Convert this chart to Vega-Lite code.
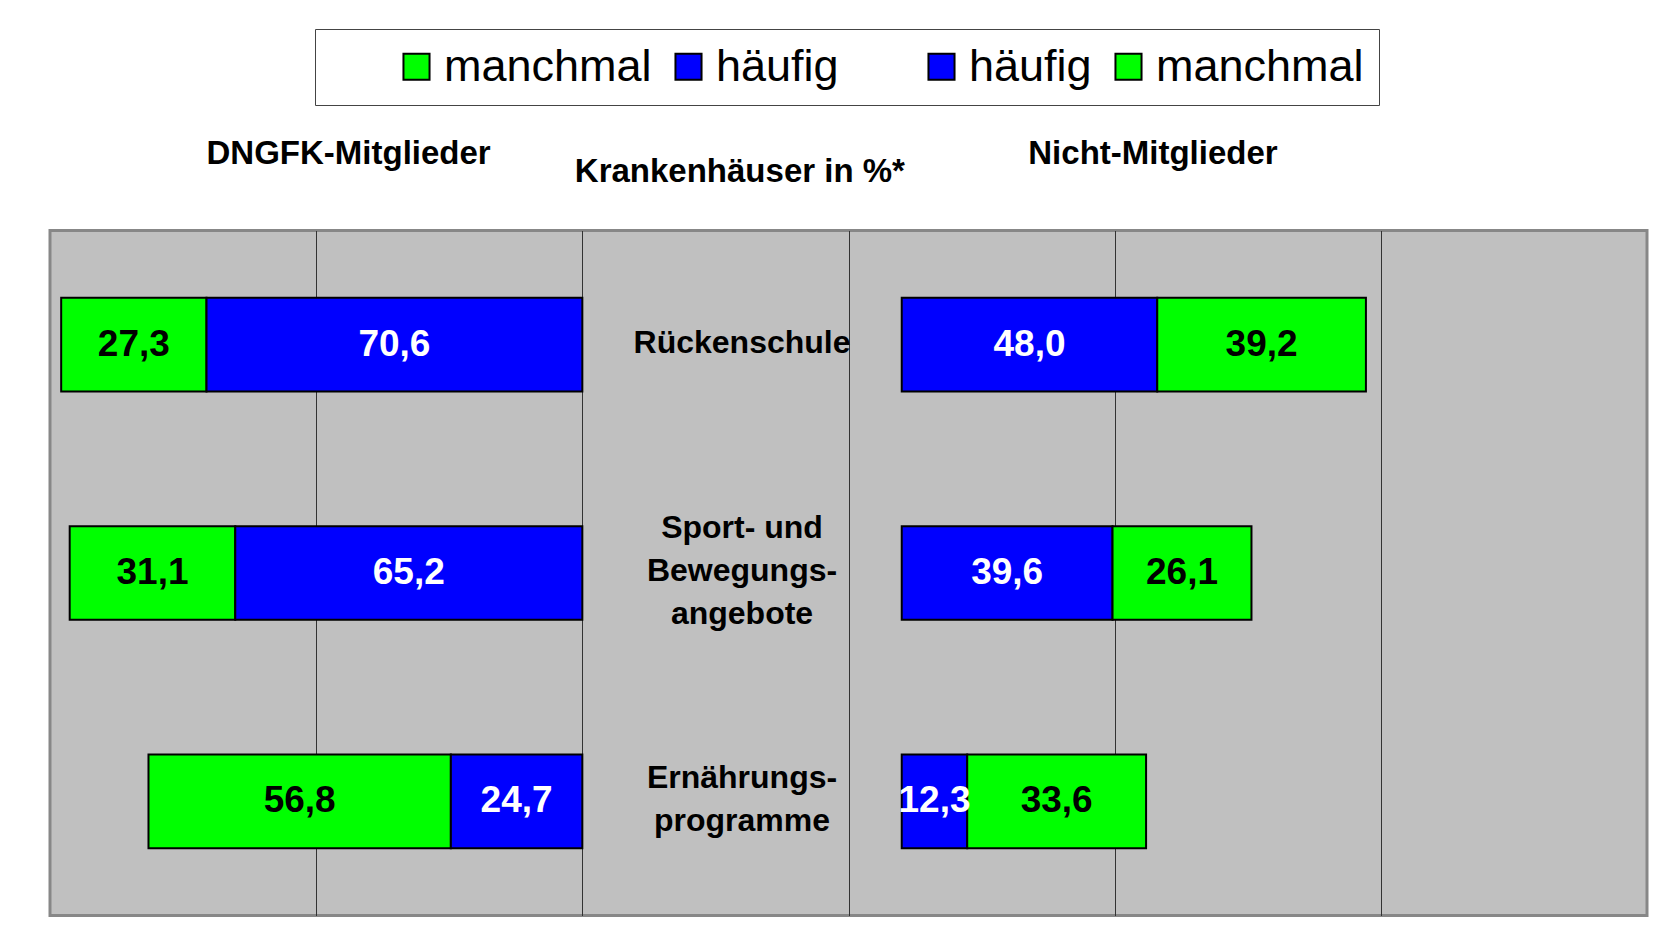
{
  "$schema": "https://vega.github.io/schema/vega-lite/v6.json",
  "width": 1597,
  "height": 685,
  "autosize": {"type": "none"},
  "padding": {"left": 50, "top": 230.5, "right": 20, "bottom": 33.5},
  "background": "white",
  "datasets": {
    "werte": [
      {"bereich": "Rückenschule", "gruppe": "DNGFK-Mitglieder", "antwort": "manchmal", "serie": "manchmal (DNGFK)", "prozent": 27.3},
      {"bereich": "Rückenschule", "gruppe": "DNGFK-Mitglieder", "antwort": "häufig", "serie": "häufig (DNGFK)", "prozent": 70.6},
      {"bereich": "Rückenschule", "gruppe": "Nicht-Mitglieder", "antwort": "häufig", "serie": "häufig (Nicht)", "prozent": 48.0},
      {"bereich": "Rückenschule", "gruppe": "Nicht-Mitglieder", "antwort": "manchmal", "serie": "manchmal (Nicht)", "prozent": 39.2},
      {"bereich": "Sport- und\nBewegungs-\nangebote", "gruppe": "DNGFK-Mitglieder", "antwort": "manchmal", "serie": "manchmal (DNGFK)", "prozent": 31.1},
      {"bereich": "Sport- und\nBewegungs-\nangebote", "gruppe": "DNGFK-Mitglieder", "antwort": "häufig", "serie": "häufig (DNGFK)", "prozent": 65.2},
      {"bereich": "Sport- und\nBewegungs-\nangebote", "gruppe": "Nicht-Mitglieder", "antwort": "häufig", "serie": "häufig (Nicht)", "prozent": 39.6},
      {"bereich": "Sport- und\nBewegungs-\nangebote", "gruppe": "Nicht-Mitglieder", "antwort": "manchmal", "serie": "manchmal (Nicht)", "prozent": 26.1},
      {"bereich": "Ernährungs-\nprogramme", "gruppe": "DNGFK-Mitglieder", "antwort": "manchmal", "serie": "manchmal (DNGFK)", "prozent": 56.8},
      {"bereich": "Ernährungs-\nprogramme", "gruppe": "DNGFK-Mitglieder", "antwort": "häufig", "serie": "häufig (DNGFK)", "prozent": 24.7},
      {"bereich": "Ernährungs-\nprogramme", "gruppe": "Nicht-Mitglieder", "antwort": "häufig", "serie": "häufig (Nicht)", "prozent": 12.3},
      {"bereich": "Ernährungs-\nprogramme", "gruppe": "Nicht-Mitglieder", "antwort": "manchmal", "serie": "manchmal (Nicht)", "prozent": 33.6}
    ],
    "bereiche": [
      {"bereich": "Rückenschule"},
      {"bereich": "Sport- und\nBewegungs-\nangebote"},
      {"bereich": "Ernährungs-\nprogramme"}
    ]
  },
  "layer": [
    {
      "data": {"name": "werte"},
      "transform": [{"filter": {"field": "gruppe", "equal": "DNGFK-Mitglieder"}}],
      "layer": [
        {
          "mark": {"type": "bar", "stroke": "black", "strokeWidth": 2},
          "encoding": {
            "y": {"field": "bereich", "type": "nominal", "axis": null, "scale": {"domain": ["Rückenschule", "Sport- und\nBewegungs-\nangebote", "Ernährungs-\nprogramme"], "paddingInner": 0.59, "paddingOuter": 0.295}},
            "x": {"field": "prozent", "type": "quantitative", "stack": "zero", "scale": {"domain": [-200, 100], "reverse": true, "nice": false, "zero": false},
                  "axis": {"orient": "top", "values": [-29.5], "labelExpr": "'Krankenhäuser in %*'", "labelFont": "Liberation Sans", "labelFontSize": 33, "labelFontWeight": "bold", "labelColor": "black", "labelBaseline": "alphabetic", "labelAlign": "center", "labelAngle": 0, "labelPadding": 49.5, "labelFlush": false, "labelOverlap": false, "labelBound": false, "labelLimit": 0, "grid": false, "ticks": false, "tickSize": 0, "domain": false, "title": null}},
            "order": {"field": "antwort", "sort": "ascending"},
            "color": {"field": "serie", "type": "nominal",
                      "scale": {"domain": ["manchmal (DNGFK)", "häufig (DNGFK)", "häufig (Nicht)", "manchmal (Nicht)"], "range": ["#00ff00", "#0000ff", "#0000ff", "#00ff00"]},
                      "legend": {"orient": "none", "legendX": 265, "legendY": -201.5, "direction": "horizontal",
                                 "title": "\u2800\u2800", "titleOrient": "left", "titleFontSize": 43, "titlePadding": 0,
                                 "labelFont": "Liberation Sans", "labelFontSize": 45, "labelColor": "black", "labelOffset": 5, "labelLimit": 500,
                                 "labelExpr": "datum.label == 'häufig (DNGFK)' ? 'häufig\u2800\u2800' : split(datum.label, ' ')[0]",
                                 "symbolType": "square", "symbolSize": 680, "symbolStrokeColor": "black", "symbolStrokeWidth": 2, "symbolOpacity": 1,
                                 "columnPadding": 14, "padding": 15, "strokeColor": "#444444", "fillColor": "white"}}
          }
        },
        {
          "mark": {"type": "text", "font": "Liberation Sans", "fontSize": 37, "fontWeight": "bold", "align": "center", "baseline": "middle"},
          "encoding": {
            "y": {"field": "bereich", "type": "nominal", "axis": null, "scale": {"domain": ["Rückenschule", "Sport- und\nBewegungs-\nangebote", "Ernährungs-\nprogramme"], "paddingInner": 0.59, "paddingOuter": 0.295}},
            "x": {"field": "prozent", "type": "quantitative", "stack": "zero", "bandPosition": 0.5, "scale": {"domain": [-200, 100], "reverse": true, "nice": false, "zero": false},
                  "axis": {"orient": "top", "values": [-29.5], "labelExpr": "'Krankenhäuser in %*'", "labelFont": "Liberation Sans", "labelFontSize": 33, "labelFontWeight": "bold", "labelColor": "black", "labelBaseline": "alphabetic", "labelAlign": "center", "labelAngle": 0, "labelPadding": 49.5, "labelFlush": false, "labelOverlap": false, "labelBound": false, "labelLimit": 0, "grid": false, "ticks": false, "tickSize": 0, "domain": false, "title": null}},
            "order": {"field": "antwort", "sort": "ascending"},
            "detail": {"field": "antwort"},
            "text": {"field": "prozent", "type": "quantitative", "format": ".1f"},
            "color": {"condition": {"test": "datum.antwort == 'häufig'", "value": "white"}, "value": "black"}
          }
        }
      ]
    },
    {
      "data": {"name": "werte"},
      "transform": [{"filter": {"field": "gruppe", "equal": "Nicht-Mitglieder"}}],
      "layer": [
        {
          "mark": {"type": "bar", "stroke": "black", "strokeWidth": 2},
          "encoding": {
            "y": {"field": "bereich", "type": "nominal", "axis": null, "scale": {"domain": ["Rückenschule", "Sport- und\nBewegungs-\nangebote", "Ernährungs-\nprogramme"], "paddingInner": 0.59, "paddingOuter": 0.295}},
            "x": {"field": "prozent", "type": "quantitative", "stack": "zero", "scale": {"domain": [-160, 140], "nice": false, "zero": false},
                  "axis": {"orient": "bottom", "values": [-110, -60, -10, 40, 90], "grid": true, "gridColor": "#333333", "gridWidth": 1, "gridOpacity": 1, "labels": false, "ticks": false, "domain": false, "title": null}},
            "order": {"field": "antwort", "sort": "ascending"},
            "color": {"field": "serie", "type": "nominal",
                      "scale": {"domain": ["manchmal (DNGFK)", "häufig (DNGFK)", "häufig (Nicht)", "manchmal (Nicht)"], "range": ["#00ff00", "#0000ff", "#0000ff", "#00ff00"]},
                      "legend": {"orient": "none", "legendX": 265, "legendY": -201.5, "direction": "horizontal",
                                 "title": "\u2800\u2800", "titleOrient": "left", "titleFontSize": 43, "titlePadding": 0,
                                 "labelFont": "Liberation Sans", "labelFontSize": 45, "labelColor": "black", "labelOffset": 5, "labelLimit": 500,
                                 "labelExpr": "datum.label == 'häufig (DNGFK)' ? 'häufig\u2800\u2800' : split(datum.label, ' ')[0]",
                                 "symbolType": "square", "symbolSize": 680, "symbolStrokeColor": "black", "symbolStrokeWidth": 2, "symbolOpacity": 1,
                                 "columnPadding": 14, "padding": 15, "strokeColor": "#444444", "fillColor": "white"}}
          }
        },
        {
          "mark": {"type": "text", "font": "Liberation Sans", "fontSize": 37, "fontWeight": "bold", "align": "center", "baseline": "middle"},
          "encoding": {
            "y": {"field": "bereich", "type": "nominal", "axis": null, "scale": {"domain": ["Rückenschule", "Sport- und\nBewegungs-\nangebote", "Ernährungs-\nprogramme"], "paddingInner": 0.59, "paddingOuter": 0.295}},
            "x": {"field": "prozent", "type": "quantitative", "stack": "zero", "bandPosition": 0.5, "scale": {"domain": [-160, 140], "nice": false, "zero": false},
                  "axis": {"orient": "bottom", "values": [-110, -60, -10, 40, 90], "grid": true, "gridColor": "#333333", "gridWidth": 1, "gridOpacity": 1, "labels": false, "ticks": false, "domain": false, "title": null}},
            "order": {"field": "antwort", "sort": "ascending"},
            "detail": {"field": "antwort"},
            "text": {"field": "prozent", "type": "quantitative", "format": ".1f"},
            "color": {"condition": {"test": "datum.antwort == 'häufig'", "value": "white"}, "value": "black"}
          }
        }
      ]
    },
    {
      "data": {"name": "bereiche"},
      "mark": {"type": "text", "font": "Liberation Sans", "fontSize": 32, "fontWeight": "bold", "lineBreak": "\n", "lineHeight": 43, "align": "center", "baseline": "middle", "color": "black",
               "dy": {"expr": "-(length(split(datum.bereich, '\\n')) - 1) * 21.5 - 2"}},
      "encoding": {
        "y": {"field": "bereich", "type": "nominal", "axis": null, "scale": {"domain": ["Rückenschule", "Sport- und\nBewegungs-\nangebote", "Ernährungs-\nprogramme"], "paddingInner": 0.59, "paddingOuter": 0.295}},
        "x": {"datum": 130, "type": "quantitative", "scale": {"domain": [0, 300], "nice": false, "zero": false},
              "axis": {"orient": "top", "values": [56, 207.1], "labelExpr": "datum.value < 130 ? 'DNGFK-Mitglieder' : 'Nicht-Mitglieder'", "labelFont": "Liberation Sans", "labelFontSize": 33, "labelFontWeight": "bold", "labelColor": "black", "labelBaseline": "alphabetic", "labelAlign": "center", "labelAngle": 0, "labelPadding": 67.4, "labelFlush": false, "labelOverlap": false, "labelBound": false, "labelLimit": 0, "grid": false, "ticks": false, "tickSize": 0, "domain": false, "title": null}},
        "text": {"field": "bereich"}
      }
    }
  ],
  "resolve": {"scale": {"x": "independent"}, "axis": {"x": "independent"}},
  "config": {
    "locale": {"number": {"decimal": ",", "thousands": ".", "grouping": [3], "currency": ["", " €"]}},
    "view": {"fill": "#c0c0c0", "stroke": "#878787", "strokeWidth": 3},
    "font": "Liberation Sans"
  }
}
